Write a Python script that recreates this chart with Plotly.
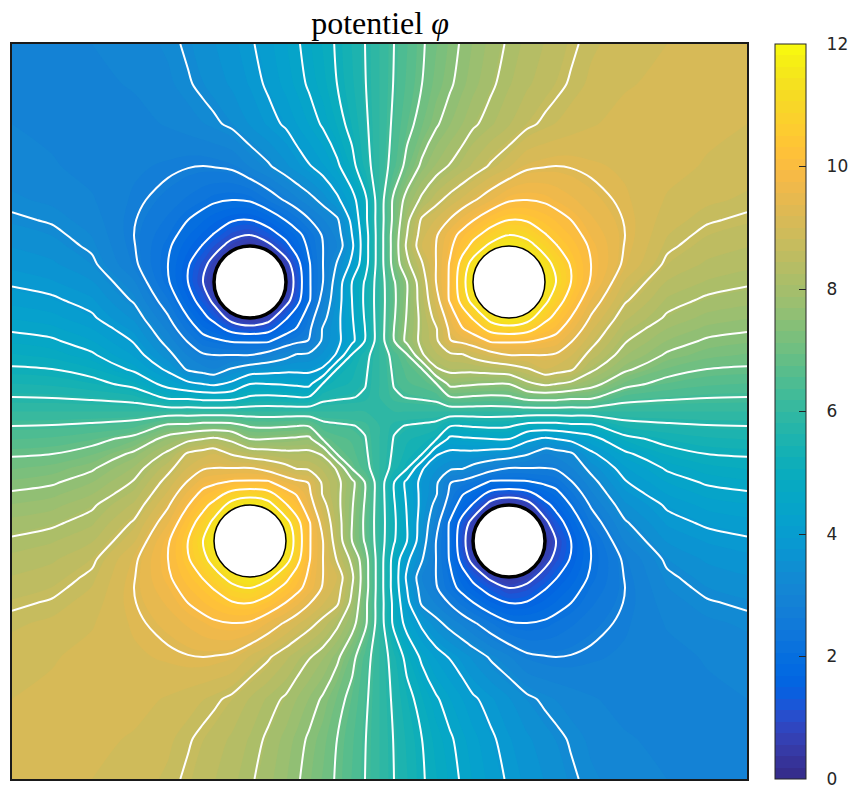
import numpy as np
import plotly.graph_objects as go

title_text = "potentiel <i>φ</i>"
tick_values = [0, 2, 4, 6, 8, 10, 12]

# grid nodes of the upper-left quadrant (plot units, seen from the picture)
quad_nodes = [0, 40, 80, 122, 156, 176, 191, 202, 220, 238, 256, 274, 285, 297, 311, 325, 340, 353, 367.5]
side = 735

# potential: upper triangle of the upper-left quadrant
r00 = [2.95, 2.97, 3.0, 3.1, 3.22, 3.35, 3.45, 3.55, 3.7, 3.85, 4.05, 4.3, 4.45, 4.65, 4.9, 5.15, 5.45, 5.7, 6]
r01 = [2.93, 2.95, 3.02, 3.15, 3.27, 3.37, 3.45, 3.6, 3.77, 3.95, 4.2, 4.37, 4.55, 4.8, 5.1, 5.4, 5.68, 6]
r02 = [2.9, 2.93, 3.02, 3.1, 3.18, 3.24, 3.37, 3.58, 3.78, 3.95, 4.13, 4.32, 4.55, 4.9, 5.27, 5.62, 6]
r03 = [2.85, 2.78, 2.72, 2.7, 2.72, 2.78, 3.03, 3.25, 3.52, 3.69, 3.87, 4.1, 4.4, 4.94, 5.5, 6]
r04 = [2.55, 2.4, 2.27, 2.17, 2.1, 2.15, 2.45, 2.75, 2.95, 3.15, 3.42, 3.8, 4.3, 4.98, 6]
r05 = [2.1, 1.9, 1.75, 1.55, 1.5, 1.72, 2.12, 2.37, 2.67, 2.98, 3.22, 4.03, 4.95, 6]
r06 = [1.65, 1.47, 1.05, 0.9, 1.25, 1.65, 1.95, 2.3, 2.75, 3.08, 3.9, 4.85, 6]
r07 = [1.13, 0.68, 0.4, 0.72, 1.35, 1.75, 2.2, 2.7, 3.0, 3.8, 4.85, 6]
r08 = [0.4, 0.4, 0.4, 0.65, 1.3, 2.05, 2.7, 3.34, 4.02, 4.88, 6]
r09 = [0.4, 0.4, 0.4, 1.13, 2.03, 2.7, 3.56, 4.5, 5.15, 6]
r10 = [0.4, 0.65, 1.3, 2.03, 2.9, 3.64, 4.5, 5.2, 6]
r11 = [1.45, 1.85, 2.45, 3.15, 3.74, 4.45, 5.15, 6]
r12 = [2.15, 2.6, 3.35, 3.75, 4.4, 5.1, 6]
r13 = [2.72, 3.4, 3.75, 4.35, 5.12, 6]
r14 = [3.6, 3.95, 5.15, 5.55, 6]
r15 = [5.1, 5.36, 5.63, 6]
r16 = [5.47, 5.68, 6]
r17 = [5.75, 6]
r18 = [6]
triangle = [r00, r01, r02, r03, r04, r05, r06, r07, r08, r09, r10, r11, r12, r13, r14, r15, r16, r17, r18]

hole_x = [238, 497, 238, 497]
hole_y = [238, 238, 497, 497]
hole_r = 36
hole_edge = [3.5, 1.5, 1.5, 3.5]

line_start, line_end, line_step = 0.3, 11.7, 0.6

parula = [
(0.2081,0.1663,0.5292),(0.2116,0.1898,0.5777),(0.2123,0.2138,0.6270),(0.2081,0.2386,0.6771),
(0.1959,0.2645,0.7279),(0.1707,0.2919,0.7792),(0.1253,0.3242,0.8303),(0.0591,0.3598,0.8683),
(0.0117,0.3875,0.8820),(0.0060,0.4086,0.8828),(0.0165,0.4266,0.8786),(0.0329,0.4430,0.8720),
(0.0498,0.4586,0.8641),(0.0629,0.4737,0.8554),(0.0723,0.4887,0.8467),(0.0779,0.5040,0.8384),
(0.0793,0.5200,0.8312),(0.0749,0.5375,0.8263),(0.0641,0.5570,0.8240),(0.0488,0.5772,0.8228),
(0.0343,0.5966,0.8199),(0.0265,0.6137,0.8135),(0.0239,0.6287,0.8038),(0.0231,0.6418,0.7913),
(0.0228,0.6535,0.7768),(0.0267,0.6642,0.7607),(0.0384,0.6743,0.7436),(0.0590,0.6838,0.7254),
(0.0843,0.6928,0.7062),(0.1133,0.7015,0.6859),(0.1453,0.7098,0.6646),(0.1801,0.7177,0.6424),
(0.2178,0.7250,0.6193),(0.2586,0.7317,0.5954),(0.3022,0.7376,0.5712),(0.3482,0.7424,0.5473),
(0.3953,0.7459,0.5244),(0.4420,0.7481,0.5033),(0.4871,0.7491,0.4840),(0.5300,0.7491,0.4661),
(0.5709,0.7485,0.4494),(0.6099,0.7473,0.4337),(0.6473,0.7456,0.4188),(0.6834,0.7435,0.4044),
(0.7184,0.7411,0.3905),(0.7525,0.7384,0.3768),(0.7858,0.7356,0.3633),(0.8185,0.7327,0.3498),
(0.8507,0.7299,0.3360),(0.8824,0.7274,0.3217),(0.9139,0.7258,0.3063),(0.9450,0.7261,0.2886),
(0.9739,0.7314,0.2666),(0.9938,0.7455,0.2403),(0.9990,0.7653,0.2164),(0.9955,0.7861,0.1967),
(0.9880,0.8066,0.1794),(0.9789,0.8271,0.1633),(0.9697,0.8481,0.1475),(0.9626,0.8705,0.1309),
(0.9589,0.8949,0.1132),(0.9598,0.9218,0.0948),(0.9661,0.9514,0.0755),(0.9763,0.9831,0.0538),
]
colorscale = [[i / (len(parula) - 1), "rgb(%d,%d,%d)" % tuple(round(c * 255) for c in rgb)]
              for i, rgb in enumerate(parula)]

# assemble the field: the picture is mirror-antisymmetric about both mid-lines
n = len(quad_nodes)
q = np.zeros((n, n))
for j, row in enumerate(triangle):
    for k, v in enumerate(row):
        q[j, j + k] = v
        q[j + k, j] = v
top = np.hstack([q, 12 - q[:, ::-1][:, 1:]])
full = np.vstack([top, 12 - top[::-1][1:]])
nodes = np.array(quad_nodes, dtype=float)
axis_nodes = np.concatenate([nodes, side - nodes[::-1][1:]])

fig = go.Figure()
fig.add_trace(go.Contour(
    x=axis_nodes, y=axis_nodes, z=full,
    zmin=0, zmax=12, zauto=False,
    colorscale=colorscale,
    autocontour=False,
    contours=dict(start=0, end=12, size=12 / 64, coloring="fill", showlines=False),
    line=dict(width=0, smoothing=0.9),
    hoverinfo="skip",
    colorbar=dict(
        x=(775 - 12) / 735, xanchor="left", xref="paper",
        y=0.5, yanchor="middle", len=1, lenmode="fraction",
        thickness=31, thicknessmode="pixels", xpad=0, ypad=0,
        tickmode="array", tickvals=tick_values,
        ticktext=["\u00a0\u00a0\u00a0" + str(t) for t in tick_values],
        ticks="inside", ticklen=7, tickwidth=1, tickcolor="#262626",
        ticklabeloverflow="allow",
        outlinecolor="#262626", outlinewidth=1,
        tickfont=dict(family="DejaVu Sans", size=17, color="#262626"),
    ),
))
fig.add_trace(go.Contour(
    x=axis_nodes, y=axis_nodes, z=full,
    autocontour=False,
    contours=dict(start=line_start, end=line_end, size=line_step, coloring="none"),
    line=dict(color="white", width=2, smoothing=0.9),
    showscale=False, hoverinfo="skip",
))

for cx, cy, w in zip(hole_x, hole_y, hole_edge):
    fig.add_shape(type="circle", xref="x", yref="y",
                  x0=cx - hole_r, x1=cx + hole_r, y0=cy - hole_r, y1=cy + hole_r,
                  fillcolor="white", line=dict(color="black", width=w), layer="above")

axis_style = dict(showgrid=False, zeroline=False, showticklabels=False, ticks="",
                  showline=True, mirror=True, linecolor="#1a1a1a", linewidth=1.5)
fig.update_layout(
    width=880, height=797, autosize=False,
    margin=dict(l=12, r=133, t=44, b=18),
    paper_bgcolor="white", plot_bgcolor="white",
    title=dict(text=title_text, x=(380 - 12) / 735, xref="paper", xanchor="center",
               y=1 - 23 / 797, yref="container", yanchor="middle",
               font=dict(family="Liberation Serif", size=32, color="black")),
    xaxis=dict(range=[0, side], constrain="domain", **axis_style),
    yaxis=dict(range=[side, 0], **axis_style),
)
fig.write_html("out.html", config={"displayModeBar": False},
               post_script="document.body.style.margin='0';document.body.style.overflow='hidden';")
